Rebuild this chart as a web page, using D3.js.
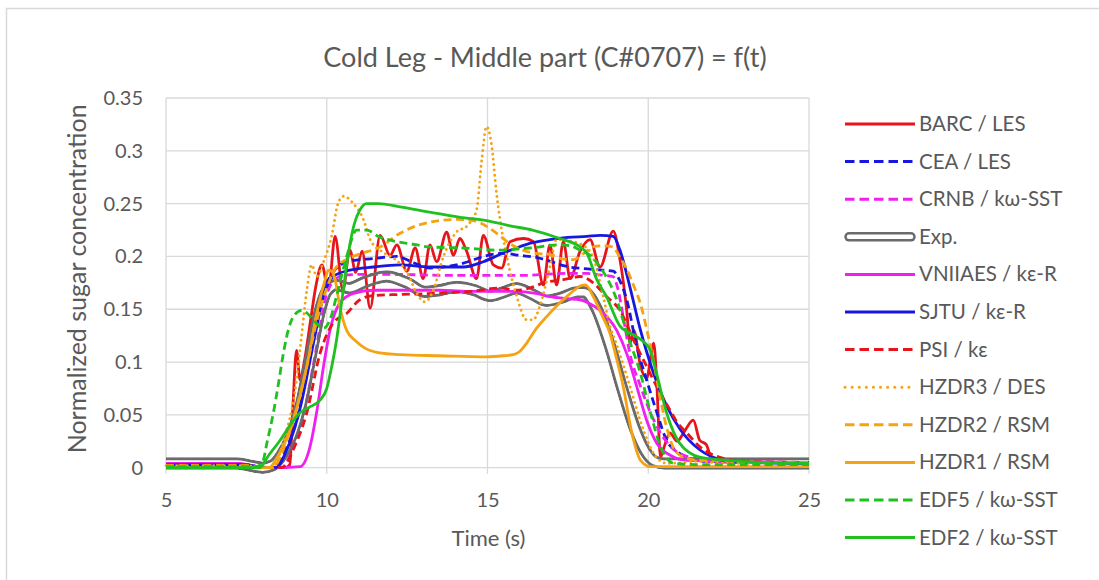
<!DOCTYPE html>
<html>
<head>
<meta charset="utf-8">
<script src="https://cdn.jsdelivr.net/npm/d3@7"></script>
<style>
  body { margin: 0; background: #fff; }
  svg { display: block; }
  text { font-family: Lato, "Noto Sans", sans-serif; fill: #595959; }
</style>
</head>
<body>
<svg id="chart" width="1099" height="580"></svg>
<script>
// ---- data ----------------------------------------------------------
const chartTitle = "Cold Leg - Middle part (C#0707) = f(t)";
const xTitle = "Time (s)";
const yTitle = "Normalized sugar concentration";

const xTicks = [5, 10, 15, 20, 25];
const xTickLabels = ["5", "10", "15", "20", "25"];
const yTicks = [0, 0.05, 0.1, 0.15, 0.2, 0.25, 0.3, 0.35];
const yTickLabels = ["0", "0.05", "0.1", "0.15", "0.2", "0.25", "0.3", "0.35"];

const seriesNames = ["BARC / LES", "CEA / LES", "CRNB / kω-SST", "Exp.", "VNIIAES / kε-R",
  "SJTU / kε-R", "PSI / kε", "HZDR3 / DES", "HZDR2 / RSM", "HZDR1 / RSM",
  "EDF5 / kω-SST", "EDF2 / kω-SST"];

// [time (s), normalized concentration]
const barcLes = [[5,0.002],[7.5,0.002],[8.0,0.0],[8.7,0.0],[8.85,0.003],[8.95,0.06],[9.06,0.111],[9.17,0.083],[9.3,0.1],[9.5,0.14],[9.65,0.17],[9.85,0.192],[10.05,0.168],[10.26,0.219],[10.5,0.168],[10.72,0.206],[10.9,0.185],[11.1,0.205],[11.35,0.151],[11.66,0.22],[11.97,0.201],[12.18,0.211],[12.49,0.186],[12.75,0.208],[13.0,0.179],[13.21,0.211],[13.42,0.195],[13.73,0.223],[13.94,0.201],[14.14,0.217],[14.35,0.205],[14.66,0.179],[14.87,0.22],[15.18,0.192],[15.44,0.189],[15.7,0.214],[16.12,0.217],[16.43,0.214],[16.74,0.173],[16.94,0.211],[17.15,0.173],[17.36,0.214],[17.57,0.179],[17.88,0.205],[18.19,0.216],[18.5,0.19],[18.91,0.224],[19.12,0.197],[19.33,0.149],[19.43,0.118],[19.55,0.13],[19.76,0.096],[19.95,0.085],[20.17,0.118],[20.27,0.077],[20.38,0.01],[20.5,0.02],[20.67,0.033],[20.9,0.025],[21.1,0.033],[21.4,0.045],[21.6,0.026],[21.8,0.022],[22.0,0.007],[22.5,0.005],[25,0.005]];
const ceaLes = [[5,0.003],[7.5,0.003],[8.0,0.0],[8.3,0.0],[8.6,0.01],[8.9,0.03],[9.17,0.058],[9.38,0.102],[9.69,0.14],[9.95,0.171],[10.2,0.185],[10.41,0.192],[10.8,0.196],[11.45,0.198],[12.18,0.2],[12.7,0.194],[13.21,0.189],[13.6,0.19],[14.04,0.192],[14.5,0.196],[14.87,0.2],[15.5,0.203],[16.0,0.201],[16.53,0.199],[17.0,0.195],[17.4,0.191],[18.19,0.188],[18.91,0.186],[19.1,0.178],[19.33,0.159],[19.64,0.115],[19.95,0.083],[20.27,0.052],[20.57,0.026],[20.9,0.015],[21.2,0.01],[21.8,0.006],[25,0.005]];
const crnbSst = [[5,0.003],[7.5,0.003],[8.0,0.0],[8.6,0.0],[8.9,0.015],[9.2,0.04],[9.6,0.1],[9.8,0.135],[10.0,0.165],[10.2,0.176],[10.5,0.182],[11.0,0.183],[12,0.183],[14,0.182],[16,0.182],[17.5,0.184],[18.09,0.184],[18.5,0.1825],[18.9,0.181],[19.05,0.17],[19.22,0.143],[19.43,0.108],[19.76,0.077],[20.07,0.052],[20.38,0.033],[20.8,0.017],[21.4,0.009],[22,0.006],[25,0.005]];
const expData = [[5,0.004],[7.2,0.004],[7.6,0.002],[8.0,0.0],[8.3,0.002],[8.6,0.012],[8.9,0.03],[9.2,0.06],[9.5,0.105],[9.8,0.15],[10.0,0.167],[10.3,0.173],[10.7,0.17],[11.2,0.176],[11.86,0.181],[12.5,0.175],[13.05,0.1665],[13.5,0.168],[14.04,0.171],[14.6,0.168],[15.08,0.1625],[15.5,0.166],[15.9,0.17],[16.4,0.164],[16.84,0.158],[17.3,0.161],[17.8,0.166],[18.0,0.166],[18.4,0.15],[18.8,0.116],[19.2,0.074],[19.6,0.036],[19.9,0.016],[20.2,0.006],[20.5,0.004],[21,0.004],[25,0.004]];
const vniiaesKer = [[5,0.004],[7.3,0.004],[7.8,0.001],[8.5,0.0],[9.17,0.001],[9.48,0.02],[9.7,0.055],[9.9,0.096],[10.1,0.13],[10.41,0.156],[10.83,0.165],[11.45,0.168],[12.28,0.168],[13.5,0.168],[14.35,0.167],[15.9,0.167],[16.5,0.165],[16.94,0.162],[17.5,0.16],[17.88,0.159],[18.2,0.155],[18.5,0.149],[19.02,0.13],[19.33,0.108],[19.64,0.077],[19.95,0.045],[20.27,0.023],[20.67,0.012],[21.2,0.007],[25,0.005]];
const sjtuKer = [[5,0.003],[7.5,0.003],[8.0,0.0],[8.4,0.0],[8.8,0.02],[9.2,0.06],[9.6,0.12],[9.9,0.163],[10.2,0.181],[10.72,0.187],[11.45,0.19],[12.28,0.192],[13.2,0.19],[14.25,0.19],[14.87,0.195],[15.4,0.202],[15.9,0.208],[16.4,0.213],[16.94,0.216],[17.5,0.218],[18.09,0.219],[18.5,0.22],[18.91,0.219],[19.12,0.206],[19.43,0.171],[19.76,0.13],[20.17,0.089],[20.58,0.058],[21.0,0.036],[21.6,0.017],[22.35,0.007],[23,0.005],[25,0.004]];
const psiKe = [[5,0.003],[7.5,0.003],[8.0,0.0],[8.6,0.0],[9.0,0.02],[9.38,0.052],[9.79,0.108],[10.2,0.137],[10.62,0.146],[11.03,0.159],[11.45,0.163],[12.28,0.164],[13.3,0.165],[14.5,0.167],[15.4,0.17],[15.9,0.168],[16.4,0.171],[16.74,0.175],[17.36,0.178],[17.88,0.181],[18.29,0.175],[18.7,0.162],[19.12,0.149],[19.54,0.121],[19.95,0.096],[20.38,0.07],[20.67,0.055],[20.9,0.043],[21.2,0.033],[21.6,0.02],[22.2,0.01],[23,0.006],[25,0.005]];
const hzdr3Des = [[5,0.002],[7.5,0.002],[8.0,0.0],[8.3,0.0],[8.7,0.03],[9.0,0.07],[9.2,0.12],[9.38,0.168],[9.53,0.192],[9.69,0.181],[9.9,0.195],[10.15,0.219],[10.35,0.25],[10.52,0.257],[10.83,0.25],[11.14,0.235],[11.35,0.216],[11.7,0.205],[12.1,0.198],[12.5,0.185],[12.8,0.165],[13.05,0.157],[13.3,0.167],[13.63,0.2],[14.0,0.222],[14.4,0.23],[14.66,0.244],[14.82,0.291],[14.97,0.323],[15.12,0.307],[15.28,0.26],[15.39,0.235],[15.6,0.2],[15.91,0.162],[16.22,0.14],[16.42,0.14],[16.63,0.153],[16.94,0.19],[17.15,0.216],[17.5,0.215],[18.0,0.21],[18.3,0.198],[18.6,0.162],[18.81,0.134],[19.0,0.118],[19.4,0.08],[19.8,0.04],[20.2,0.012],[20.6,0.004],[21.5,0.006],[22.5,0.004],[25,0.005]];
const hzdr2Rsm = [[5,0.002],[7.5,0.002],[8.0,0.0],[8.3,0.0],[8.8,0.03],[9.3,0.085],[9.7,0.14],[10.0,0.17],[10.3,0.19],[10.6,0.197],[11.0,0.202],[11.66,0.209],[12.28,0.222],[12.7,0.228],[13.3,0.233],[14.0,0.235],[14.55,0.234],[15.0,0.228],[15.28,0.222],[15.7,0.212],[16.1,0.206],[16.5,0.203],[16.94,0.202],[17.3,0.198],[17.67,0.197],[18.0,0.203],[18.29,0.209],[18.6,0.21],[18.9,0.209],[19.1,0.2],[19.33,0.188],[19.55,0.172],[19.76,0.155],[19.96,0.13],[20.17,0.1],[20.38,0.065],[20.6,0.035],[20.8,0.018],[21.1,0.01],[21.6,0.007],[22.1,0.007],[23,0.005],[25,0.005]];
const hzdr1Rsm = [[5,0.0],[8.2,0.0],[8.5,0.012],[8.86,0.036],[9.1,0.06],[9.38,0.096],[9.69,0.146],[9.95,0.178],[10.05,0.187],[10.15,0.186],[10.26,0.178],[10.41,0.152],[10.62,0.13],[10.9,0.12],[11.2,0.113],[11.6,0.109],[12.3,0.107],[13.5,0.106],[14.97,0.105],[15.5,0.106],[15.8,0.107],[16.0,0.11],[16.22,0.118],[16.5,0.131],[16.84,0.143],[17.15,0.153],[17.46,0.162],[17.7,0.168],[17.88,0.172],[18.05,0.173],[18.29,0.162],[18.55,0.145],[18.81,0.127],[19.0,0.105],[19.22,0.077],[19.49,0.033],[19.76,0.007],[20.07,0.001],[25,0.001]];
const edf5Sst = [[5,0.001],[7.8,0.001],[8.0,0.005],[8.15,0.025],[8.34,0.052],[8.5,0.08],[8.65,0.108],[8.8,0.13],[8.96,0.143],[9.22,0.149],[9.4,0.146],[9.58,0.14],[9.9,0.132],[10.1,0.14],[10.3,0.162],[10.62,0.2],[10.93,0.225],[11.24,0.225],[11.6,0.219],[12.18,0.214],[12.6,0.212],[13.21,0.209],[14.25,0.208],[15.28,0.206],[16.32,0.208],[17.25,0.211],[17.6,0.21],[17.88,0.206],[18.1,0.203],[18.5,0.19],[19.02,0.159],[19.33,0.128],[19.76,0.089],[20.07,0.052],[20.38,0.02],[20.8,0.004],[21.5,0.003],[25,0.003]];
const edf2Sst = [[5,0.0],[7.9,0.0],[8.2,0.012],[8.55,0.026],[8.9,0.042],[9.17,0.052],[9.5,0.058],[9.79,0.064],[10.0,0.075],[10.15,0.095],[10.3,0.12],[10.5,0.165],[10.7,0.208],[10.85,0.23],[11.03,0.244],[11.24,0.25],[11.6,0.25],[12.28,0.247],[13.2,0.242],[14.15,0.237],[14.97,0.234],[15.7,0.229],[16.4,0.225],[17.25,0.217],[17.88,0.209],[18.09,0.203],[18.4,0.178],[18.7,0.162],[19.12,0.134],[19.4,0.128],[19.64,0.124],[19.9,0.118],[20.05,0.112],[20.26,0.089],[20.57,0.052],[20.98,0.023],[21.6,0.01],[22.44,0.007],[23.5,0.005],[25,0.004]];

const seriesValues = [barcLes, ceaLes, crnbSst, expData, vniiaesKer, sjtuKer, psiKe,
  hzdr3Des, hzdr2Rsm, hzdr1Rsm, edf5Sst, edf2Sst];

// ---- styling --------------------------------------------------------
const RED = "#e8141c", BLUE = "#1717e0", MAGENTA = "#f020f0", GRAY = "#6b6b6b",
      ORANGE = "#f5a312", GREEN = "#20c020";
const DASH = "8 4.5", DOT = "0.1 5.2";
const styles = [
  { color: RED,     dash: null },
  { color: BLUE,    dash: DASH },
  { color: MAGENTA, dash: DASH },
  { color: GRAY,    dash: null, double: true },
  { color: MAGENTA, dash: null },
  { color: BLUE,    dash: null },
  { color: RED,     dash: DASH },
  { color: ORANGE,  dash: DOT, dot: true },
  { color: ORANGE,  dash: DASH },
  { color: ORANGE,  dash: null },
  { color: GREEN,   dash: DASH },
  { color: GREEN,   dash: null }
];

// ---- layout ---------------------------------------------------------
const svg = d3.select("#chart");
const W = 1099, H = 580;
const plot = { left: 166, right: 809, top: 98, bottom: 467.7 };

const x = d3.scaleLinear().domain([5, 25]).range([plot.left, plot.right]);
const y = d3.scaleLinear().domain([0, 0.35]).range([plot.bottom, plot.top]);

svg.append("rect").attr("width", W).attr("height", H).attr("fill", "#fff");
// chart frame
svg.append("rect")
  .attr("x", 6.5).attr("y", 8.5).attr("width", 1200).attr("height", 700)
  .attr("fill", "none").attr("stroke", "#d9d9d9").attr("stroke-width", 1.5);

// gridlines
const grid = svg.append("g").attr("stroke", "#d9d9d9").attr("stroke-width", 1.3);
grid.selectAll("line.h").data(yTicks).join("line")
  .attr("x1", plot.left).attr("x2", plot.right)
  .attr("y1", d => y(d)).attr("y2", d => y(d));
grid.selectAll("line.v").data(xTicks).join("line")
  .attr("x1", d => x(d)).attr("x2", d => x(d))
  .attr("y1", plot.top).attr("y2", plot.bottom + 6);

// axes (labels only, lines come from the grid)
const xAxis = d3.axisBottom(x).tickValues(xTicks)
  .tickFormat((d, i) => xTickLabels[i]).tickSize(0).tickPadding(25);
const gx = svg.append("g").attr("transform", `translate(0,${plot.bottom})`).call(xAxis);
gx.select(".domain").remove();
gx.selectAll("text").attr("font-size", 20).attr("fill", "#595959")
  .attr("font-family", "Lato, sans-serif");

const yAxis = d3.axisLeft(y).tickValues(yTicks)
  .tickFormat((d, i) => yTickLabels[i]).tickSize(0).tickPadding(23);
const gy = svg.append("g").attr("transform", `translate(${plot.left},0)`).call(yAxis);
gy.select(".domain").remove();
gy.selectAll("text").attr("font-size", 20).attr("fill", "#595959")
  .attr("font-family", "Lato, sans-serif");

// titles
svg.append("text").attr("x", 545).attr("y", 67).attr("text-anchor", "middle")
  .attr("font-size", 27).text(chartTitle);
svg.append("text").attr("x", (plot.left + plot.right) / 2 + 1).attr("y", 546)
  .attr("text-anchor", "middle").attr("font-size", 22).text(xTitle);
svg.append("text").attr("transform", `translate(86,${(plot.top + plot.bottom) / 2 - 4}) rotate(-90)`)
  .attr("text-anchor", "middle").attr("font-size", 25).text(yTitle);

// ---- series ---------------------------------------------------------
const line = d3.line().x(d => x(d[0])).y(d => y(d[1])).curve(d3.curveMonotoneX);
const defs = svg.append("defs");
const lines = svg.append("g").attr("fill", "none");

seriesValues.forEach((vals, i) => {
  const st = styles[i];
  const dPath = line(vals);
  if (st.double) {
    // compound (double) stroke: transparent gap between two thin lines
    const m = defs.append("mask").attr("id", "dbl" + i)
      .attr("maskUnits", "userSpaceOnUse")
      .attr("x", 0).attr("y", 0).attr("width", W).attr("height", H);
    m.append("path").attr("d", dPath).attr("fill", "none")
      .attr("stroke", "#fff").attr("stroke-width", 12.5);
    m.append("path").attr("d", dPath).attr("fill", "none")
      .attr("stroke", "#000").attr("stroke-width", 6.5);
    lines.append("path").attr("d", dPath).attr("stroke", st.color)
      .attr("stroke-width", 12.5).attr("mask", `url(#dbl${i})`);
  } else {
    lines.append("path").attr("d", dPath)
      .attr("stroke", st.color)
      .attr("stroke-width", 2.8)
      .attr("stroke-dasharray", st.dash)
      .attr("stroke-linecap", st.dot ? "round" : "butt")
      .attr("stroke-linejoin", "round");
  }
});

// ---- legend ---------------------------------------------------------
const legend = svg.append("g");
const lx0 = 845, lx1 = 915, ly0 = 124, lstep = 37.6;
seriesNames.forEach((name, i) => {
  const st = styles[i];
  const yy = ly0 + i * lstep;
  const g = legend.append("g");
  if (st.double) {
    g.append("line").attr("x1", lx0 + 4).attr("x2", lx1 - 4).attr("y1", yy).attr("y2", yy)
      .attr("stroke", st.color).attr("stroke-width", 9.5).attr("stroke-linecap", "round");
    g.append("line").attr("x1", lx0 + 4).attr("x2", lx1 - 4).attr("y1", yy).attr("y2", yy)
      .attr("stroke", "#fff").attr("stroke-width", 4.5).attr("stroke-linecap", "round");
  } else {
    g.append("line").attr("x1", lx0).attr("x2", lx1).attr("y1", yy).attr("y2", yy)
      .attr("stroke", st.color).attr("stroke-width", 3)
      .attr("stroke-dasharray", st.dot ? "0.1 7" : (st.dash ? "9.5 5" : null))
      .attr("stroke-linecap", st.dot ? "round" : "butt");
  }
  g.append("text").attr("x", lx1 + 4).attr("y", yy + 7).attr("font-size", 20.5).text(name);
});
</script>
</body>
</html>
